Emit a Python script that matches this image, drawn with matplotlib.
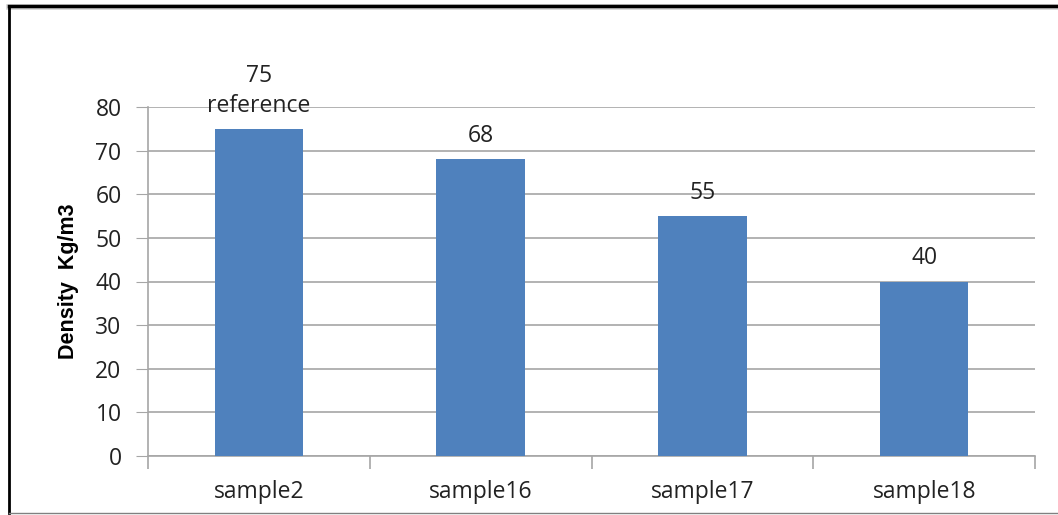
import matplotlib.pyplot as plt
from matplotlib.lines import Line2D

samples = ['sample2', 'sample16', 'sample17', 'sample18']
density = [75, 68, 55, 40]
notes = ['reference', '', '', '']

plt.rcParams['font.family'] = ['Open Sans', 'DejaVu Sans']

fig = plt.figure(figsize=(10.58, 5.15), dpi=100)
ax = fig.add_axes([148 / 1058, 59 / 515, 887 / 1058, 349 / 515])

x = range(len(samples))
ax.bar(x, density, width=0.4, color='#4f81bd', zorder=3)

for i, (v, n) in enumerate(zip(density, notes)):
    label = '%d\n%s' % (v, n) if n else '%d' % v
    ax.annotate(label, (i, v), xytext=(0, 8), textcoords='offset points',
                ha='center', va='bottom', fontsize=16.5, color='#222222',
                linespacing=1.3)

ax.set_xlim(-0.5, len(samples) - 0.5)
ax.set_ylim(0, 80)
ax.set_yticks(range(0, 81, 10))
ax.yaxis.grid(True, color='#a6a6a6', linewidth=1.2, zorder=0)
ax.tick_params(axis='y', length=9, color='#a6a6a6', labelsize=16.5,
               labelcolor='#222222', pad=10)

# category dividers on the x axis
ax.set_xticks([i - 0.5 for i in range(len(samples) + 1)])
ax.set_xticklabels([])
ax.set_xticks(list(x), minor=True)
ax.set_xticklabels(samples, minor=True)
ax.tick_params(axis='x', which='major', length=9, color='#a6a6a6', width=1.2)
ax.tick_params(axis='x', which='minor', length=0, labelsize=16.5,
               labelcolor='#222222', pad=17)

for s in ['top', 'right']:
    ax.spines[s].set_visible(False)
for s in ['left', 'bottom']:
    ax.spines[s].set_color('#a6a6a6')
    ax.spines[s].set_linewidth(1.2)

ax.set_ylabel('Density  Kg/m3', fontsize=15.5, fontweight='bold',
              family=['Liberation Sans', 'DejaVu Sans'], labelpad=12)

# outer frame
fig.add_artist(Line2D([9 / 1058, 1], [1 - 7 / 515] * 2, color='#d0d0d0', linewidth=4,
                      transform=fig.transFigure))
fig.add_artist(Line2D([9 / 1058, 1], [1 - 6 / 515] * 2, color='black', linewidth=2.5,
                      transform=fig.transFigure))
fig.add_artist(Line2D([9 / 1058] * 2, [2 / 515, 1 - 6 / 515], color='black', linewidth=2,
                      transform=fig.transFigure))
fig.add_artist(Line2D([9 / 1058, 1], [2 / 515] * 2, color='#808080', linewidth=1,
                      transform=fig.transFigure))

fig.savefig('out.png', dpi=100)
